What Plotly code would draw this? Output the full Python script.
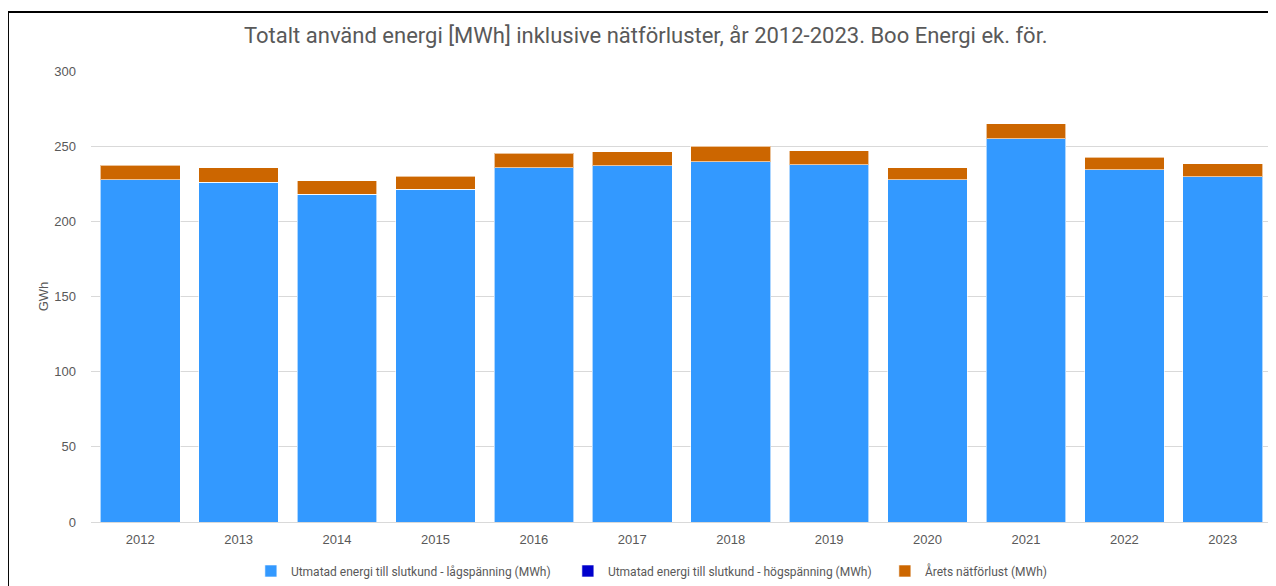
import plotly.graph_objects as go

years = ["2012", "2013", "2014", "2015", "2016", "2017", "2018", "2019", "2020", "2021", "2022", "2023"]
lagspanning = [227.6, 225.9, 217.9, 221.4, 235.8, 236.9, 239.8, 237.6, 227.6, 255.1, 234.2, 229.6]
hogspanning = [0, 0, 0, 0, 0, 0, 0, 0, 0, 0, 0, 0]
natforlust = [9.6, 9.9, 9.0, 8.7, 9.6, 9.3, 10.2, 9.3, 8.2, 9.7, 8.3, 8.6]
y_ticks = [0, 50, 100, 150, 200, 250, 300]

names = [
    "Utmatad energi till slutkund - lågspänning (MWh)",
    "Utmatad energi till slutkund - högspänning (MWh)",
    "Årets nätförlust (MWh)",
]
colors = ["#3399FF", "#0000CC", "#CC6600"]

narrow = "Liberation Sans Narrow, Roboto, Arial, sans-serif"
grey = "#595959"

fig = go.Figure()
for name, vals, col in zip(names, [lagspanning, hogspanning, natforlust], colors):
    fig.add_trace(go.Bar(
        x=years, y=vals, name=name,
        marker=dict(color=col, line=dict(color="rgba(255,255,255,0.6)", width=1)),
    ))

fig.update_layout(
    width=1268, height=578,
    barmode="stack", bargap=0.19,
    paper_bgcolor="white", plot_bgcolor="white",
    margin=dict(l=83, r=4, t=63, b=64, autoexpand=False),
    title=dict(
        text="Totalt använd energi [MWh] inklusive nätförluster, år 2012-2023. Boo Energi ek. för.",
        x=0.503, xanchor="center", y=0.952, yanchor="middle",
        font=dict(family=narrow, size=22, color=grey),
    ),
    xaxis=dict(
        showgrid=False, showline=True, linecolor="#D9D9D9", linewidth=1,
        ticks="", ticklabelstandoff=5,
        tickfont=dict(family="Liberation Sans, Arial", size=13, color=grey),
    ),
    yaxis=dict(
        range=[0, 300], tickvals=y_ticks, showgrid=True, gridcolor="#D9D9D9", gridwidth=1,
        zeroline=False, showline=False, ticks="", ticklabelstandoff=14,
        tickfont=dict(family="Liberation Sans, Arial", size=13, color=grey),
        title=dict(text="GWh", standoff=2, font=dict(family="Liberation Sans, Arial", size=13, color=grey)),
    ),
    legend=dict(
        orientation="h", x=0.538, xanchor="center",
        yref="container", y=0.026, yanchor="middle",
        font=dict(family=narrow, size=12, color=grey),
        traceorder="normal", entrywidth=272, entrywidthmode="pixels",
    ),
    shapes=[
        dict(type="line", xref="paper", yref="paper", x0=-0.075, x1=1.01, y0=1.1308, y1=1.1308,
             line=dict(color="black", width=2)),
        dict(type="line", xref="paper", yref="paper", x0=-0.0703, x1=-0.0703, y0=1.1308, y1=-0.2,
             line=dict(color="black", width=2)),
    ],
)

fig.write_html("out.html")
